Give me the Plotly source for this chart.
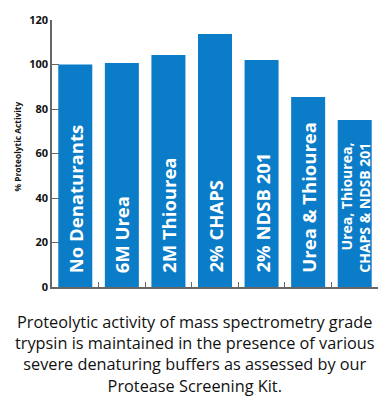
import plotly.graph_objects as go

categories = ["No Denaturants", "6M Urea", "2M Thiourea", "2% CHAPS",
              "2% NDSB 201", "Urea & Thiourea", "Urea, Thiourea,<br>CHAPS & NDSB 201"]
activity = [100.0, 100.7, 104.3, 113.7, 102.0, 85.4, 75.1]
label_sizes = [18.5, 18.5, 18.5, 18.5, 18.5, 18.5, 14]
y_ticks = [0, 20, 40, 60, 80, 100, 120]
y_title = "% Proteolytic Activity"

caption = ("Proteolytic activity of mass spectrometry grade<br>"
           "trypsin is maintained in the presence of various<br>"
           "severe denaturing buffers as assessed by our<br>"
           "Protease Screening Kit.")

x_idx = list(range(len(categories)))

fig = go.Figure(go.Bar(
    x=x_idx, y=activity,
    marker=dict(color="#0b7cc7", line=dict(width=0)),
    width=0.73,
    hoverinfo="skip",
))

for i, (c, s) in enumerate(zip(categories, label_sizes)):
    fig.add_annotation(
        x=i, y=0, xref="x", yref="y",
        text="<b>" + c + "</b>", textangle=-90,
        showarrow=False, xanchor="center", yanchor="bottom",
        yshift=12,
        font=dict(family="Open Sans", size=s, color="white"),
        align="right",
    )

# page body has an 8px margin, so the figure is offset by 8px right/down
L, T, R, B = 44, 12, 11, 113
W, H = 381, 392
cap_x = (194.5 - 8 - L) / (W - R - L)

fig.add_annotation(
    x=cap_x, y=0, xref="paper", yref="paper",
    xanchor="center", yanchor="top", yshift=-22,
    text=caption, showarrow=False,
    font=dict(family="Open Sans", size=16.3, color="#111"),
    align="center",
)

fig.add_annotation(
    x=0, y=(287 - 146.5) / 267, xref="paper", yref="paper",
    xanchor="center", yanchor="middle", xshift=-35,
    text="<b>" + y_title + "</b>", textangle=-90, showarrow=False,
    font=dict(family="Open Sans", size=8.4, color="#111"),
)

fig.update_layout(
    width=W, height=H,
    margin=dict(l=L, r=R, t=T, b=B, autoexpand=False),
    paper_bgcolor="white", plot_bgcolor="white",
    showlegend=False,
    xaxis=dict(
        range=[-0.5, 6.5], showticklabels=False, automargin=False,
        tickvals=[-0.5 + k for k in range(8)],
        ticks="inside", ticklen=5, tickcolor="#666", tickwidth=1,
        showline=True, linecolor="#666", linewidth=1.5,
        showgrid=False, zeroline=False, fixedrange=True,
    ),
    yaxis=dict(
        range=[0, 120], tickvals=y_ticks, automargin=False,
        ticks="inside", ticklen=7, tickcolor="#666", tickwidth=1,
        showline=True, linecolor="#666", linewidth=1.5,
        showgrid=False, zeroline=False,
        tickfont=dict(family="Open Sans", size=11, color="#111", weight="bold"),
    ),
)

fig.write_html("out.html")
